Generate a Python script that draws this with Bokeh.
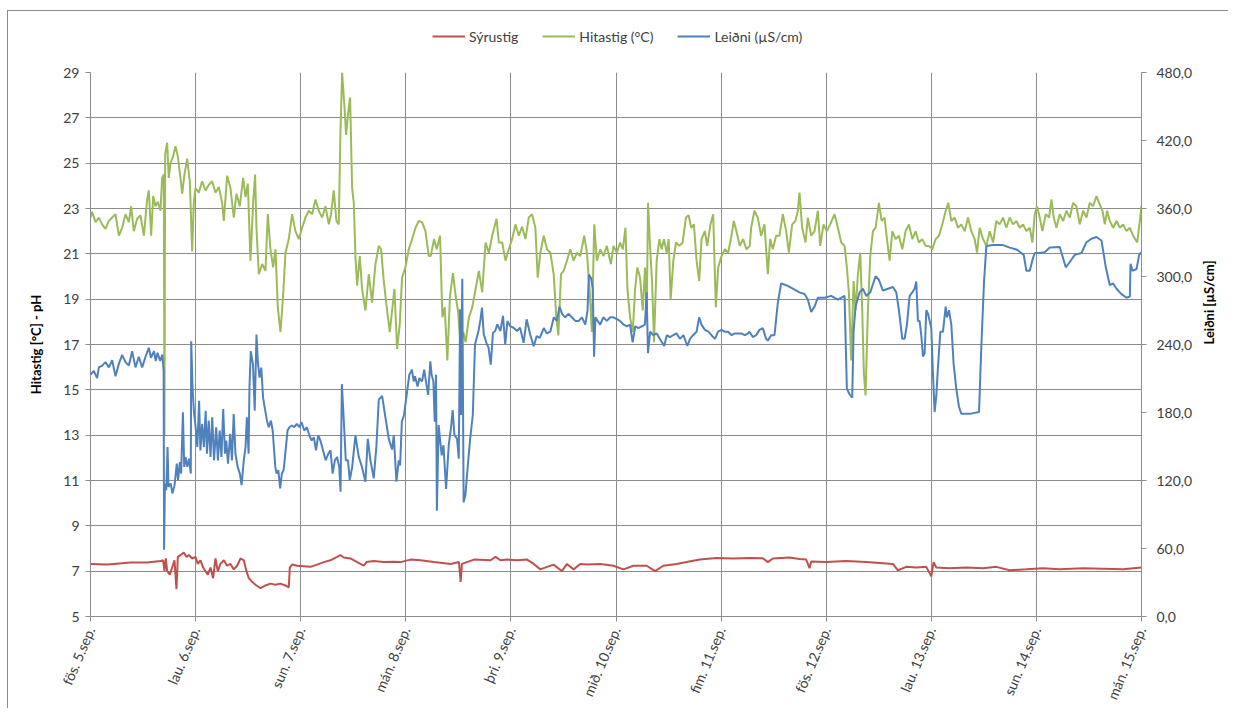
import math
from bokeh.plotting import figure
from bokeh.layouts import column
from bokeh.models import Range1d, LinearAxis, FixedTicker, Legend, LegendItem
from bokeh.embed import file_html
from bokeh.resources import INLINE

# ---------------- data ----------------
day_hours = [0, 24, 48, 72, 96, 120, 144, 168, 192, 216, 240]
day_labels = ["fös. 5.sep.", "lau. 6.sep.", "sun. 7.sep.", "mán. 8.sep.", "þri. 9.sep.",
              "mið. 10.sep.", "fim. 11.sep.", "fös. 12.sep.", "lau. 13.sep.", "sun. 14.sep.",
              "mán. 15.sep."]
left_ticks = [5, 7, 9, 11, 13, 15, 17, 19, 21, 23, 25, 27, 29]
right_ticks = [0, 60, 120, 180, 240, 300, 360, 420, 480]
right_labels = ["0,0", "60,0", "120,0", "180,0", "240,0", "300,0", "360,0", "420,0", "480,0"]
series_names = ["Sýrustig", "Hitastig (°C)", "Leiðni (µS/cm)"]

# (hours since fös. 5.sep. 00:00, value)
ph_pts = [
    (0, 7.32), (3.8, 7.29), (5.3, 7.32), (9.1, 7.38), (12.9, 7.38), (16.0, 7.45), (16.59, 7.48),
    (16.89, 7.0), (17.2, 7.56), (17.5, 7.0), (18.11, 6.85), (18.64, 7.16), (19.18, 7.48),
    (19.63, 6.21), (19.94, 7.63), (20.55, 7.71), (21.31, 7.82), (21.92, 7.63), (22.45, 7.71),
    (23.21, 7.56), (23.97, 7.63), (24.5, 7.32), (25.11, 7.48), (25.72, 7.16), (26.25, 7.0),
    (26.79, 6.85), (27.4, 7.16), (28.0, 6.69), (28.54, 7.56), (29.07, 7.0), (29.68, 7.32),
    (30.44, 7.48), (31.2, 7.24), (31.96, 7.32), (32.72, 7.08), (33.48, 7.24), (34.25, 7.56),
    (35.01, 7.48), (35.61, 7.0), (36.15, 6.69), (36.91, 6.53), (37.67, 6.4), (38.81, 6.25),
    (39.95, 6.37), (41.09, 6.45), (42.24, 6.4), (43.38, 6.45), (44.52, 6.37), (45.28, 6.29),
    (45.51, 7.16), (46.04, 7.29), (47.18, 7.24), (48.7, 7.22), (50.23, 7.19), (51.75, 7.29),
    (53.27, 7.4), (54.79, 7.48), (56.31, 7.63), (57.08, 7.71), (57.84, 7.6), (59.36, 7.56),
    (60.88, 7.4), (62.4, 7.24), (63.01, 7.4), (64.69, 7.45), (66.97, 7.4), (69.25, 7.42),
    (70.77, 7.4), (73.06, 7.51), (75.34, 7.48), (78.45, 7.4), (82.24, 7.32), (84.14, 7.4),
    (84.52, 6.53), (84.82, 7.32), (87.56, 7.51), (91.35, 7.48), (92.49, 7.63), (93.63, 7.48),
    (95.14, 7.51), (97.42, 7.48), (99.7, 7.51), (101.21, 7.32), (102.73, 7.08), (104.25, 7.19),
    (105.77, 7.29), (107.66, 7.0), (108.8, 7.32), (110.32, 7.08), (111.84, 7.32), (113.36, 7.29),
    (116.39, 7.32), (119.43, 7.24), (121.7, 7.08), (123.98, 7.24), (127.01, 7.24), (128.91, 7.0),
    (130.81, 7.24), (133.84, 7.32), (136.12, 7.4), (139.15, 7.51), (142.95, 7.58), (146.74, 7.56),
    (150.54, 7.58), (153.52, 7.57), (154.67, 7.4), (155.81, 7.56), (159.62, 7.6), (161.9, 7.54),
    (163.43, 7.51), (164.19, 7.13), (164.57, 7.43), (168.0, 7.4), (172.57, 7.45), (177.14, 7.4),
    (180.95, 7.35), (183.24, 7.32), (184.38, 7.04), (186.29, 7.19), (188.57, 7.16),
    (190.86, 7.19), (192.0, 6.77), (192.53, 7.4), (193.14, 7.16), (196.19, 7.13), (200.0, 7.16),
    (203.81, 7.13), (206.86, 7.19), (209.9, 7.04), (213.71, 7.08), (217.52, 7.13),
    (221.33, 7.08), (226.67, 7.13), (231.24, 7.11), (235.81, 7.08), (240.0, 7.16),
]

temp_pts = [
    (0, 22.6), (0.38, 22.85), (1.14, 22.4), (1.9, 22.6), (2.66, 22.3), (3.42, 22.1), (4.19, 22.45),
    (4.95, 22.6), (5.71, 22.75), (6.47, 21.8), (7.23, 22.15), (7.99, 22.75), (8.75, 22.4),
    (9.28, 23.1), (9.89, 22.0), (10.65, 22.55), (11.42, 22.7), (12.18, 21.8), (12.94, 23.4),
    (13.32, 23.8), (13.85, 21.8), (14.31, 23.55), (14.84, 23.1), (15.37, 23.3), (15.98, 22.9),
    (16.36, 24.35), (16.74, 24.5), (16.89, 13.0), (17.05, 25.4), (17.5, 25.9), (17.88, 24.35),
    (18.26, 25.0), (18.87, 25.3), (19.41, 25.75), (19.94, 25.3), (20.55, 24.35), (20.93, 23.65),
    (21.46, 24.5), (22.07, 25.2), (22.68, 24.2), (23.21, 21.1), (23.59, 23.25), (23.97, 23.9),
    (24.73, 23.7), (25.49, 24.2), (26.25, 23.8), (27.02, 24.05), (27.78, 24.2), (28.54, 23.7),
    (29.3, 23.95), (30.06, 23.25), (30.44, 22.45), (31.2, 24.45), (31.96, 23.9), (32.72, 22.6),
    (33.33, 23.65), (34.09, 23.1), (34.85, 24.35), (35.39, 23.5), (35.92, 24.1), (36.53, 20.7),
    (37.14, 23.25), (37.59, 24.5), (37.9, 22.15), (38.43, 20.1), (39.19, 20.55), (39.95, 20.25),
    (40.49, 22.75), (41.09, 21.2), (41.7, 20.4), (42.24, 21.2), (42.77, 18.65), (43.38, 17.55),
    (43.99, 19.15), (44.52, 21.05), (45.28, 21.65), (46.04, 22.75), (46.8, 22.0), (47.56, 21.65),
    (48.32, 22.15), (49.08, 22.6), (49.85, 22.9), (50.61, 22.75), (51.37, 23.4), (52.13, 22.9),
    (52.89, 22.6), (53.65, 23.1), (54.41, 22.3), (54.94, 22.75), (55.55, 23.8), (56.16, 22.45),
    (56.69, 22.3), (57.08, 26.4), (57.46, 29.0), (57.99, 27.5), (58.37, 26.25), (58.83, 27.2),
    (59.28, 27.9), (59.74, 23.9), (60.12, 23.25), (60.5, 20.9), (60.88, 19.6), (61.49, 20.9),
    (62.02, 19.45), (62.78, 18.5), (63.54, 20.1), (64.3, 18.85), (65.07, 20.55), (65.83, 21.35),
    (66.36, 21.2), (66.97, 19.8), (67.73, 18.5), (68.34, 17.55), (68.87, 18.5), (69.4, 19.45),
    (70.01, 16.8), (70.62, 17.9), (71.15, 19.95), (71.91, 20.4), (72.68, 21.2), (73.44, 21.65),
    (74.2, 22.15), (74.96, 22.45), (75.72, 22.4), (76.48, 22.0), (77.24, 20.9), (77.69, 20.9),
    (78.45, 21.65), (79.06, 21.2), (79.82, 21.8), (80.35, 18.2), (80.88, 18.65), (81.49, 16.3),
    (82.09, 19.15), (82.77, 20.15), (83.38, 19.15), (83.91, 18.5), (84.52, 16.95), (85.13, 17.55),
    (85.66, 17.1), (86.42, 18.2), (87.18, 18.65), (87.94, 19.45), (88.69, 20.25), (89.45, 19.3),
    (90.21, 21.5), (90.97, 21.05), (91.73, 21.8), (92.72, 22.55), (93.25, 21.5), (94.01, 21.5),
    (94.76, 20.7), (95.52, 21.2), (96.28, 21.65), (97.04, 22.3), (97.8, 21.8), (98.56, 22.2),
    (99.32, 21.65), (100.08, 22.6), (100.83, 22.75), (101.59, 22.15), (102.12, 19.95),
    (102.73, 21.05), (103.49, 21.8), (104.25, 21.2), (105.01, 21.05), (105.77, 20.1),
    (106.37, 18.2), (106.83, 17.4), (107.44, 20.1), (108.04, 20.25), (108.8, 20.7),
    (109.56, 21.2), (110.32, 20.7), (111.08, 21.05), (111.84, 20.9), (112.75, 21.8),
    (113.36, 21.05), (113.96, 19.45), (114.49, 17.55), (115.03, 22.3), (115.63, 20.7),
    (116.39, 21.2), (117.15, 20.9), (117.91, 21.35), (118.82, 20.55), (119.43, 21.35),
    (120.19, 21.05), (120.94, 21.5), (121.55, 21.2), (122.16, 22.15), (122.61, 19.45),
    (123.22, 18.2), (123.83, 17.55), (124.36, 19.45), (124.89, 20.4), (125.5, 19.95),
    (126.1, 18.5), (126.63, 20.4), (127.01, 18.2), (127.32, 23.25), (127.77, 21.35),
    (128.23, 19.8), (128.68, 17.1), (129.29, 20.7), (129.9, 21.65), (130.43, 21.2),
    (130.96, 21.65), (131.57, 21.05), (132.03, 21.65), (132.48, 19.0), (133.09, 20.7),
    (133.7, 21.5), (134.45, 21.35), (135.21, 21.5), (135.97, 22.6), (136.58, 22.7),
    (137.18, 22.15), (137.79, 22.3), (138.4, 20.7), (139.0, 19.8), (139.53, 21.65),
    (140.29, 22.0), (140.83, 21.35), (141.58, 22.3), (142.19, 22.75), (142.8, 18.65),
    (143.33, 20.4), (144.09, 20.9), (144.85, 21.2), (145.61, 21.05), (146.36, 21.8),
    (146.9, 22.45), (147.5, 22.0), (148.26, 21.35), (149.02, 21.65), (149.78, 21.2),
    (150.54, 21.35), (150.86, 22.15), (151.62, 22.9), (152.38, 22.6), (153.14, 21.8),
    (153.9, 22.3), (154.67, 20.1), (155.2, 21.65), (155.81, 21.2), (156.57, 21.8),
    (157.33, 21.8), (158.1, 22.75), (158.86, 22.0), (159.47, 21.05), (160.23, 22.3),
    (160.99, 22.45), (161.52, 22.9), (161.9, 23.7), (162.51, 22.15), (163.28, 21.5),
    (163.81, 22.6), (164.57, 21.8), (165.33, 22.0), (166.1, 22.9), (166.63, 21.35),
    (167.39, 22.3), (168.15, 22.0), (168.91, 22.3), (169.9, 22.75), (170.67, 22.15),
    (171.43, 21.5), (172.19, 21.35), (172.72, 20.4), (173.18, 19.3), (173.71, 16.3),
    (174.25, 19.8), (174.7, 18.5), (175.24, 20.1), (175.77, 21.05), (176.23, 18.5),
    (176.61, 15.7), (176.99, 14.75), (177.52, 18.5), (178.06, 20.9), (178.67, 22.0),
    (179.28, 22.15), (180.04, 23.25), (180.65, 22.45), (181.33, 22.6), (181.87, 21.65),
    (182.48, 20.7), (183.09, 22.0), (183.85, 21.65), (184.61, 21.8), (185.37, 21.2),
    (186.13, 22.0), (186.9, 22.3), (187.66, 21.65), (188.42, 22.0), (189.18, 21.5),
    (189.94, 21.65), (190.7, 21.35), (191.47, 21.35), (192.23, 21.2), (192.99, 21.65),
    (193.75, 21.8), (194.51, 22.3), (195.28, 22.9), (195.89, 23.25), (196.57, 22.45),
    (197.33, 22.6), (198.1, 22.15), (198.86, 22.3), (199.62, 22.0), (200.38, 22.6),
    (201.14, 22.0), (201.9, 21.65), (202.44, 21.05), (203.05, 22.15), (203.81, 21.65),
    (204.57, 21.35), (205.33, 22.0), (206.1, 21.5), (206.86, 22.45), (207.62, 22.3),
    (208.38, 22.6), (209.14, 22.15), (209.9, 22.6), (210.67, 22.3), (211.43, 22.45),
    (212.19, 22.15), (212.95, 22.3), (213.71, 22.0), (214.48, 22.15), (215.09, 21.5),
    (215.62, 22.75), (216.15, 23.1), (216.76, 22.6), (217.37, 22.0), (218.13, 22.75),
    (218.9, 22.6), (219.43, 23.4), (219.96, 22.6), (220.57, 22.15), (221.33, 22.75),
    (222.1, 22.45), (222.86, 22.9), (223.62, 22.6), (224.38, 23.25), (225.14, 23.1),
    (225.9, 22.3), (226.67, 22.9), (227.43, 22.6), (228.19, 23.25), (228.95, 23.1),
    (229.71, 23.55), (230.32, 23.25), (231.09, 22.9), (231.62, 22.3), (232.15, 22.9),
    (232.76, 22.45), (233.53, 22.15), (234.29, 22.45), (235.05, 22.15), (235.81, 22.3),
    (236.57, 22.0), (237.34, 22.15), (238.1, 21.8), (239.01, 21.5), (239.62, 22.45),
    (240.0, 23.1),
]

cond_pts = [
    (0, 213.5), (0.76, 216.6), (1.52, 210.3), (1.9, 219.8), (2.66, 221.4), (3.42, 224.5),
    (4.19, 219.8), (4.95, 226.1), (5.71, 211.9), (6.47, 222.9), (7.23, 230.8), (7.99, 224.5),
    (8.75, 221.4), (9.51, 234.0), (10.27, 219.8), (11.03, 229.2), (11.8, 219.8), (12.56, 229.2),
    (13.32, 237.1), (13.8, 228.3), (14.5, 234.2), (14.9, 225.4), (15.3, 232.7), (15.9, 225.4),
    (16.4, 231.2), (16.7, 216.6), (16.8, 59.0), (17.0, 117.4), (17.3, 111.5), (17.6, 149.5),
    (17.8, 114.4), (18.3, 117.4), (18.7, 108.6), (19.2, 115.9), (19.7, 134.9), (20.0, 120.3),
    (20.4, 136.3), (20.7, 126.1), (21.1, 180.1), (21.4, 132.0), (21.7, 140.7), (22.1, 132.0),
    (22.5, 139.3), (22.9, 126.1), (23.0, 242.9), (23.3, 202.0), (23.6, 181.6), (24.0, 167.0),
    (24.4, 149.5), (24.8, 190.4), (25.1, 146.6), (25.5, 169.9), (25.9, 149.5), (26.3, 181.6),
    (26.6, 143.6), (27.0, 172.8), (27.4, 140.7), (27.8, 175.8), (28.2, 137.8), (28.7, 167.0),
    (29.1, 137.8), (29.5, 164.1), (29.9, 140.7), (30.3, 183.1), (30.7, 143.6), (31.0, 155.3),
    (31.4, 134.9), (31.9, 161.2), (32.3, 137.8), (32.7, 178.7), (33.1, 143.6), (33.6, 132.0),
    (34.1, 126.1), (34.5, 115.9), (35.0, 137.8), (35.4, 149.5), (35.7, 175.8), (36.1, 143.6),
    (36.3, 202.0), (36.6, 234.2), (37.1, 222.5), (37.5, 181.6), (37.9, 248.8), (38.2, 225.4),
    (38.6, 210.8), (39.0, 219.6), (39.4, 193.3), (39.9, 181.6), (40.3, 172.8), (40.7, 167.0),
    (41.2, 172.8), (41.6, 164.1), (42.2, 132.0), (42.5, 126.1), (42.9, 129.0), (43.3, 113.0),
    (43.7, 126.1), (44.1, 129.0), (44.4, 140.7), (45.0, 164.1), (45.4, 167.0), (46.0, 168.5),
    (46.5, 167.0), (47.1, 169.9), (47.7, 167.0), (48.2, 171.4), (48.8, 164.1), (49.4, 167.0),
    (50.0, 159.7), (50.5, 155.3), (51.0, 158.2), (51.5, 146.6), (52.0, 159.7), (52.5, 155.3),
    (53.1, 146.6), (53.7, 137.8), (54.3, 143.6), (54.8, 146.6), (55.3, 126.1), (55.8, 137.8),
    (56.3, 140.7), (56.8, 132.0), (57.1, 110.1), (57.4, 205.0), (57.8, 175.8), (58.3, 137.8),
    (58.8, 137.8), (59.2, 120.3), (59.74, 131.5), (60.5, 159.9), (61.26, 140.9), (62.02, 131.5),
    (62.78, 118.9), (63.32, 156.7), (63.92, 137.8), (64.68, 122.0), (65.29, 150.4),
    (65.83, 191.4), (66.59, 194.6), (67.35, 175.6), (68.11, 156.7), (68.87, 147.3),
    (69.25, 159.9), (69.86, 118.9), (70.39, 137.8), (70.7, 133.3), (71.1, 171.9), (71.6, 177.8),
    (72.2, 195.6), (72.8, 213.3), (73.4, 217.8), (73.8, 207.4), (74.1, 211.9), (74.7, 203.0),
    (75.1, 210.4), (75.7, 207.4), (76.2, 217.8), (76.6, 207.4), (77.1, 195.6), (77.6, 225.2),
    (77.9, 213.3), (78.3, 207.4), (78.6, 171.9), (78.9, 213.3), (79.1, 93.3), (79.5, 168.9),
    (79.8, 157.0), (80.2, 142.2), (80.6, 151.1), (81.2, 112.6), (81.8, 151.1), (82.3, 165.9),
    (82.7, 182.2), (83.1, 160.0), (83.7, 157.0), (84.1, 139.3), (84.4, 271.1), (84.6, 177.8),
    (84.9, 298.0), (85.2, 100.7), (85.6, 106.7), (86.1, 130.4), (86.7, 157.0), (87.3, 177.8),
    (87.8, 240.0), (88.1, 244.4), (88.6, 251.9), (89.0, 260.7), (89.4, 272.6), (89.8, 248.9),
    (90.4, 241.5), (90.9, 237.0), (91.4, 222.2), (91.9, 250.4), (92.4, 251.9), (92.9, 257.8),
    (93.6, 251.9), (94.2, 265.2), (94.7, 240.0), (95.2, 260.7), (95.8, 256.3), (96.6, 254.8),
    (97.4, 251.9), (98.1, 254.8), (98.9, 241.5), (99.6, 262.2), (100.4, 248.9), (101.2, 238.5),
    (101.9, 247.4), (102.6, 245.9), (103.5, 254.5), (104.2, 249.8), (105.0, 251.3),
    (105.8, 264.0), (106.5, 260.8), (107.1, 273.4), (107.7, 267.1), (108.4, 264.0),
    (109.2, 267.1), (109.9, 264.0), (110.7, 260.8), (111.5, 260.8), (112.2, 264.0),
    (113.0, 257.6), (113.5, 270.3), (113.8, 301.8), (114.3, 298.6), (114.7, 289.2),
    (115.0, 229.3), (115.3, 264.0), (115.8, 260.8), (116.4, 257.6), (117.1, 264.0),
    (117.9, 260.8), (118.7, 264.0), (119.4, 264.0), (120.2, 262.4), (120.9, 260.8),
    (121.7, 257.6), (122.5, 256.1), (123.2, 257.6), (123.8, 241.9), (124.4, 256.1),
    (125.1, 254.5), (125.9, 256.1), (126.6, 257.6), (127.0, 286.0), (127.3, 232.4),
    (127.8, 251.3), (128.5, 248.2), (129.3, 249.8), (130.0, 245.0), (131.0, 238.7),
    (131.6, 248.2), (132.3, 246.6), (133.1, 248.2), (133.8, 249.8), (134.6, 245.0),
    (135.4, 248.2), (136.3, 238.7), (136.9, 245.0), (137.6, 248.2), (138.4, 251.3),
    (139.0, 264.0), (139.5, 257.6), (140.3, 252.9), (141.1, 251.3), (141.8, 248.2),
    (142.6, 245.0), (143.3, 251.3), (144.1, 252.9), (144.8, 251.3), (145.6, 251.3),
    (146.4, 248.2), (147.1, 249.8), (147.9, 249.8), (148.6, 249.8), (149.4, 248.2),
    (150.2, 249.8), (150.48, 251.3), (151.24, 246.6), (152.0, 248.2), (152.76, 252.9),
    (153.52, 254.5), (154.29, 245.0), (154.67, 243.4), (155.43, 248.2), (156.19, 248.2),
    (156.95, 276.6), (157.71, 293.9), (158.86, 292.3), (160.38, 289.2), (161.9, 286.0),
    (163.05, 284.5), (163.81, 279.7), (164.57, 268.7), (165.33, 273.4), (166.1, 281.3),
    (167.62, 281.3), (169.14, 282.9), (170.67, 279.7), (172.19, 282.9), (172.72, 200.9),
    (173.33, 196.1), (173.94, 193.0), (174.25, 251.3), (174.7, 273.4), (175.62, 286.0),
    (176.38, 289.2), (177.14, 282.9), (178.06, 286.0), (179.28, 300.2), (180.04, 297.1),
    (180.95, 287.6), (182.1, 289.2), (183.24, 290.7), (184.0, 286.0), (184.61, 270.3),
    (185.37, 245.0), (185.9, 245.0), (186.44, 257.6), (187.05, 282.9), (187.66, 286.0),
    (188.19, 289.2), (188.57, 295.5), (188.95, 260.8), (189.33, 260.8), (189.71, 248.2),
    (190.1, 229.3), (190.48, 232.4), (190.86, 270.3), (191.24, 267.1), (192.0, 254.5),
    (192.38, 213.5), (192.76, 180.4), (193.14, 194.6), (193.52, 219.8), (194.06, 251.3),
    (194.67, 251.3), (195.28, 273.4), (195.58, 264.0), (196.04, 270.3), (196.57, 257.6),
    (197.1, 222.9), (197.71, 200.9), (198.32, 185.1), (198.86, 178.8), (200.76, 178.8),
    (202.9, 180.4), (203.43, 238.7), (204.04, 295.5), (204.57, 327.0), (206.1, 327.7),
    (208.38, 327.7), (209.9, 325.5), (211.43, 323.9), (212.57, 320.7), (213.1, 319.1),
    (213.71, 305.0), (214.48, 305.0), (215.09, 314.4), (215.62, 320.7), (216.76, 320.7),
    (217.9, 321.4), (219.05, 325.5), (221.33, 326.1), (222.1, 316.0), (222.71, 308.1),
    (223.62, 312.8), (224.76, 319.1), (226.29, 320.7), (227.43, 330.2), (228.57, 333.3),
    (229.71, 334.9), (230.86, 331.8), (231.85, 308.1), (232.76, 292.3), (233.53, 293.9),
    (234.29, 289.2), (235.43, 284.5), (236.57, 281.3), (237.34, 282.3), (237.49, 311.3),
    (237.94, 305.0), (238.86, 306.6), (239.47, 319.1), (240.0, 321.4),
]

ph_t = [a for a, b in ph_pts]
ph_v = [b for a, b in ph_pts]
temp_t = [a for a, b in temp_pts]
temp_v = [b for a, b in temp_pts]
cond_t = [a for a, b in cond_pts]
cond_v = [b for a, b in cond_pts]

# ---------------- styling ----------------
FONT = "Lato"
TXT = "#404040"
GRID = "#8c8c8c"
COLORS = ["#C0504D", "#9BBB59", "#4F81BD"]
LW = 2

# ---------------- main chart ----------------
p = figure(width=1220, height=647, x_range=Range1d(0, 240), y_range=Range1d(5, 29),
           output_backend="svg", toolbar_location=None,
           min_border_left=82, min_border_right=86, min_border_top=11, min_border_bottom=92)
p.extra_y_ranges = {"cond": Range1d(0, 480)}
p.outline_line_color = None
p.background_fill_color = "white"
p.border_fill_color = "white"

xa = p.xaxis[0]
xa.ticker = FixedTicker(ticks=day_hours)
xa.major_label_overrides = {h: s for h, s in zip(day_hours, day_labels)}
xa.major_label_orientation = 1.17

ya = p.yaxis[0]
ya.ticker = FixedTicker(ticks=left_ticks)
ya.axis_label = "Hitastig [°C] - pH"

ra = LinearAxis(y_range_name="cond", ticker=FixedTicker(ticks=right_ticks),
                major_label_overrides={t: s for t, s in zip(right_ticks, right_labels)},
                axis_label="Leiðni [µS/cm]")
p.add_layout(ra, "right")

for ax in [xa, ya, ra]:
    ax.axis_line_color = GRID
    ax.major_tick_line_color = GRID
    ax.major_tick_out = 5
    ax.major_tick_in = 0
    ax.minor_tick_line_color = None
    ax.major_label_text_font = FONT
    ax.major_label_text_font_size = "14px"
    ax.major_label_text_color = TXT
    ax.axis_label_text_font = FONT
    ax.axis_label_text_font_size = "13px"
    ax.axis_label_text_font_style = "bold"
    ax.axis_label_text_color = "#000000"
ya.major_label_standoff = 6
ya.axis_label_standoff = 16
ra.major_label_standoff = 10
ra.axis_label_standoff = 14
ra.axis_label_orientation = math.pi / 2
xa.major_label_standoff = 6

p.xgrid.grid_line_color = GRID
p.ygrid.grid_line_color = GRID
p.xgrid.grid_line_alpha = 1
p.ygrid.grid_line_alpha = 1

p.line(ph_t, ph_v, line_color=COLORS[0], line_width=LW)
p.line(temp_t, temp_v, line_color=COLORS[1], line_width=LW)
p.line(cond_t, cond_v, line_color=COLORS[2], line_width=LW, y_range_name="cond")

# ---------------- legend strip (its lines lie outside its ranges) ----------------
lg = figure(width=1220, height=50, x_range=Range1d(-2000, -1999), y_range=Range1d(-2000, -1999),
            output_backend="svg", toolbar_location=None, x_axis_type=None, y_axis_type=None,
            min_border_left=0, min_border_right=0, min_border_top=0, min_border_bottom=0)
lg.outline_line_color = None
lg.xgrid.visible = False
lg.ygrid.visible = False
keys = [lg.line(ph_t, ph_v, line_color=COLORS[0], line_width=LW),
        lg.line(temp_t, temp_v, line_color=COLORS[1], line_width=LW),
        lg.line(cond_t, cond_v, line_color=COLORS[2], line_width=LW)]
legend = Legend(items=[LegendItem(label=n, renderers=[r]) for n, r in zip(series_names, keys)],
                orientation="horizontal", location=(342, 15), margin=0, padding=0,
                spacing=24, glyph_width=33, glyph_height=20, label_standoff=4,
                border_line_color=None, background_fill_alpha=0,
                label_text_font=FONT, label_text_font_size="14px", label_text_color=TXT)
lg.add_layout(legend, "center")

page = column(lg, p, spacing=0, margin=(10, 0, 0, 7),
              styles={"border-left": "1px solid #8c8c8c", "border-top": "1px solid #8c8c8c"})

open("out.html", "w").write(file_html(page, INLINE))
